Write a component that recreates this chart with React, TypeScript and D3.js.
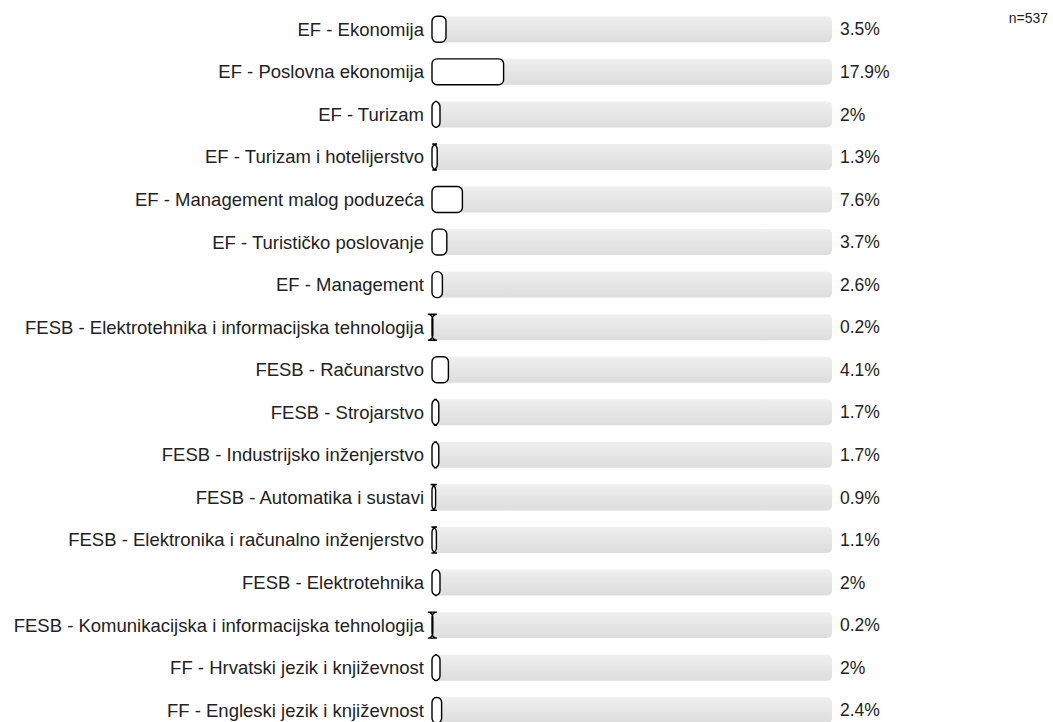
import React, { useEffect, useRef } from 'react';
import * as d3 from 'd3';

const categories = [
  'EF - Ekonomija',
  'EF - Poslovna ekonomija',
  'EF - Turizam',
  'EF - Turizam i hotelijerstvo',
  'EF - Management malog poduzeća',
  'EF - Turističko poslovanje',
  'EF - Management',
  'FESB - Elektrotehnika i informacijska tehnologija',
  'FESB - Računarstvo',
  'FESB - Strojarstvo',
  'FESB - Industrijsko inženjerstvo',
  'FESB - Automatika i sustavi',
  'FESB - Elektronika i računalno inženjerstvo',
  'FESB - Elektrotehnika',
  'FESB - Komunikacijska i informacijska tehnologija',
  'FF - Hrvatski jezik i književnost',
  'FF - Engleski jezik i književnost',
];
const values = [3.5, 17.9, 2, 1.3, 7.6, 3.7, 2.6, 0.2, 4.1, 1.7, 1.7, 0.9, 1.1, 2, 0.2, 2, 2.4];
const nLabel = 'n=537';

// rounded rect whose corner radius is not clamped (small bars get flared ends)
const roundBar = (x: number, y: number, w: number, h: number, r: number) =>
  `M${x + r},${y}L${x + w - r},${y}` +
  `A${r},${r} 0 0 1 ${x + w},${y + r}L${x + w},${y + h - r}` +
  `A${r},${r} 0 0 1 ${x + w - r},${y + h}L${x + r},${y + h}` +
  `A${r},${r} 0 0 1 ${x},${y + h - r}L${x},${y + r}` +
  `A${r},${r} 0 0 1 ${x + r},${y}Z`;

const App = () => {
  const ref = useRef<SVGSVGElement>(null);

  useEffect(() => {
    const width = 1053;
    const height = 722;
    const svg = d3.select(ref.current);
    svg.selectAll('*').remove();

    const font = 'Liberation Sans, Arial, sans-serif';
    const data = categories.map((c, i) => ({ name: c, value: values[i] }));

    // rows
    const y = d3.scaleBand()
      .domain(categories)
      .range([8, 8 + 42.56 * categories.length])
      .paddingInner(0.39)
      .paddingOuter(0.195);

    const x = d3.scaleLinear().domain([0, 100]).range([432, 832]);

    const defs = svg.append('defs');
    const grad = defs.append('linearGradient')
      .attr('id', 'track')
      .attr('x1', 0).attr('y1', 0).attr('x2', 0).attr('y2', 1);
    grad.append('stop').attr('offset', '0%').attr('stop-color', '#efefef');
    grad.append('stop').attr('offset', '100%').attr('stop-color', '#dddddd');

    const row = svg.selectAll('.row')
      .data(data)
      .enter()
      .append('g')
      .attr('class', 'row');

    row.append('rect')
      .attr('x', x(0))
      .attr('y', d => y(d.name)!)
      .attr('width', x(100) - x(0))
      .attr('height', y.bandwidth())
      .attr('rx', 5)
      .attr('fill', 'url(#track)');

    row.append('path')
      .attr('d', d => roundBar(x(0), y(d.name)!, x(d.value) - x(0), y.bandwidth(), 5))
      .attr('fill', '#ffffff')
      .attr('stroke', '#000')
      .attr('stroke-width', 1.4);

    row.append('text')
      .attr('x', 424)
      .attr('y', d => y(d.name)! + y.bandwidth() / 2)
      .attr('dy', '0.35em')
      .attr('text-anchor', 'end')
      .attr('font-family', font)
      .attr('font-size', 18.5)
      .attr('fill', '#222')
      .text(d => d.name);

    row.append('text')
      .attr('x', x(100) + 8)
      .attr('y', d => y(d.name)! + y.bandwidth() / 2)
      .attr('dy', '0.35em')
      .attr('font-family', font)
      .attr('font-size', 17.5)
      .attr('fill', '#222')
      .text(d => `${d.value}%`);

    svg.append('text')
      .attr('x', width - 5)
      .attr('y', 23)
      .attr('text-anchor', 'end')
      .attr('font-family', font)
      .attr('font-size', 14)
      .attr('fill', '#222')
      .text(nLabel);

    svg.attr('width', width).attr('height', height);
  }, []);

  return (
    <svg ref={ref} width={1053} height={722} style={{ position: 'absolute', left: 0, top: 0 }} />
  );
};

export default App;
